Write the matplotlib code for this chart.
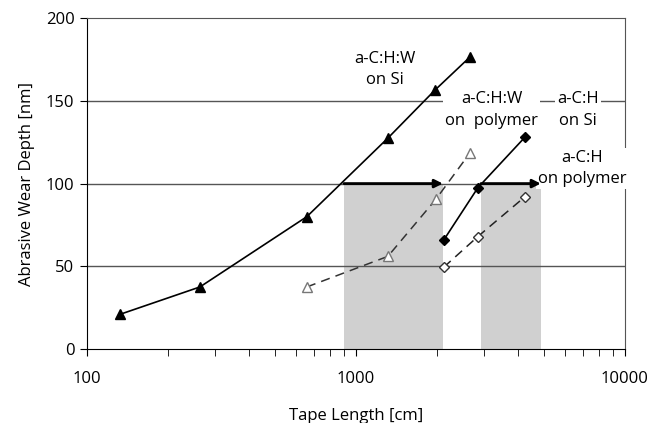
import matplotlib.pyplot as plt

plt.rcParams['font.family'] = ['Open Sans', 'DejaVu Sans']

# tape length [cm] vs abrasive wear depth [nm]
len_cHW_si = [133, 263, 657, 1315, 1967, 2654]
dep_cHW_si = [21, 37.5, 80, 127.5, 156.5, 176.5]

len_cHW_poly = [657, 1315, 1983, 2654]
dep_cHW_poly = [37.5, 56, 90.5, 118.5]

len_cH_si = [2124, 2842, 4249]
dep_cH_si = [66, 97.5, 128]

len_cH_poly = [2124, 2842, 4249]
dep_cH_poly = [49.5, 68, 92]

# shaded spans where wear stays below 100 nm
span_w = (903, 2106)
span_h = (2916, 4870)
limit_depth = 100

fs = 12

fig = plt.figure(figsize=(6.64, 4.23), dpi=100)
ax = fig.add_axes([0.131, 0.175, 0.810, 0.782])

ax.set_xscale('log')
ax.set_xlim(100, 10000)
ax.set_ylim(0, 200)

for y in [50, 100, 150]:
    ax.axhline(y, color='#555555', lw=1.0, zorder=1)

ax.fill_between(span_w, 0, limit_depth, color='#d0d0d0', lw=0, zorder=0.5)
ax.fill_between(span_h, 0, limit_depth, color='#d0d0d0', lw=0, zorder=0.5)

for x0, x1 in [span_w, span_h]:
    ax.annotate('', xy=(x1, limit_depth), xytext=(x0, limit_depth),
                arrowprops=dict(arrowstyle='-|>', color='black', lw=2.0,
                                mutation_scale=12, shrinkA=0, shrinkB=0),
                zorder=7)

ax.plot(len_cHW_si, dep_cHW_si, '-', color='black', lw=1.2,
        marker='^', ms=7, mfc='black', mec='black', zorder=3)
ax.plot(len_cHW_poly, dep_cHW_poly, '--', color='#333333', lw=1.1,
        dashes=(6, 4), marker='^', ms=7, mfc='white', mec='#777777', zorder=3)
ax.plot(len_cH_si, dep_cH_si, '-', color='black', lw=1.2,
        marker='D', ms=5, mfc='black', mec='black', zorder=3)
ax.plot(len_cH_poly, dep_cH_poly, '--', color='#222222', lw=1.1,
        dashes=(6, 4), marker='D', ms=5.5, mfc='white', mec='#333333', zorder=3)

box = dict(facecolor='white', edgecolor='none', pad=1.5)
ax.text(1282, 169, 'a-C:H:W\non Si', ha='center', va='center',
        fontsize=fs, linespacing=1.45, zorder=5)
ax.text(3203, 144.5, 'a-C:H:W\non  polymer', ha='center', va='center',
        fontsize=fs, linespacing=1.45, bbox=box, zorder=5)
ax.text(6686, 144.5, 'a-C:H\non Si', ha='center', va='center',
        fontsize=fs, linespacing=1.45, bbox=box, zorder=5)
ax.text(6918, 109, 'a-C:H\non polymer', ha='center', va='center',
        fontsize=fs, linespacing=1.45, bbox=box, zorder=6, clip_on=False)

for side in ['top', 'right']:
    ax.spines[side].set_color('#555555')
ax.spines['left'].set_color('black')
ax.spines['bottom'].set_color('black')

ax.set_yticks([0, 50, 100, 150, 200])
ax.set_xticks([100, 1000, 10000])
ax.set_xticklabels(['100', '1000', '10000'])
ax.tick_params(axis='x', which='both', direction='out', length=5, pad=11,
               labelsize=fs)
ax.tick_params(axis='y', direction='out', length=5, pad=4, labelsize=fs)

ax.set_xlabel('Tape Length [cm]', fontsize=fs, labelpad=15)
ax.set_ylabel('Abrasive Wear Depth [nm]', fontsize=fs, labelpad=8)

fig.savefig('out.png', dpi=100)
